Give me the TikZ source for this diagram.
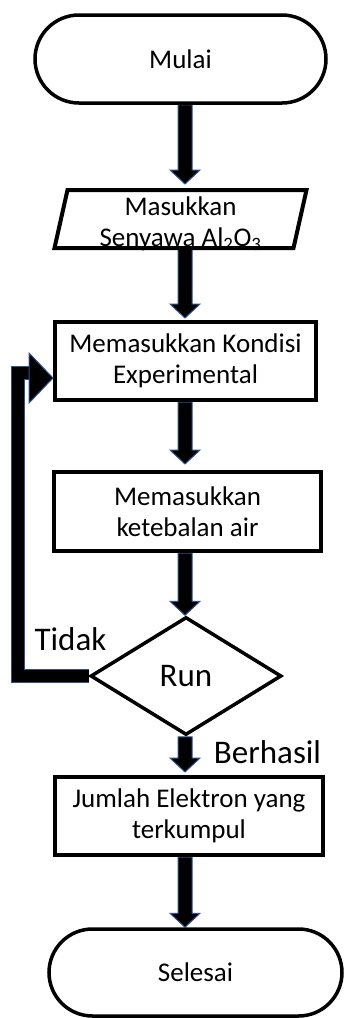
\documentclass[tikz,border=0pt]{standalone}
\usepackage{fontspec}
\setmainfont{Carlito}
\usetikzlibrary{shapes.misc,shapes.geometric,calc}
\definecolor{arrblue}{RGB}{47,82,143}
\pgfdeclarelayer{bg}
\pgfsetlayers{bg,main}
\newcommand\blockarr[2]{%
  \draw[arrfill] let \p1=#1, \p2=#2 in
    (\x1-7pt,\y1) -- (\x1+7pt,\y1) -- (\x1+7pt,\y2+14pt) -- (\x1+15pt,\y2+14pt)
    -- (\x1,\y2) -- (\x1-15pt,\y2+14pt) -- (\x1-7pt,\y2+14pt) -- cycle;}
\tikzset{
  boxtxt/.style={font=\fontsize{27}{31}\selectfont, align=center},
  procbox/.style={rectangle, draw, line width=4pt, fill=white, boxtxt, inner sep=0pt},
  term/.style={rounded rectangle, draw, line width=3.5pt, fill=white, boxtxt, inner sep=0pt},
  decision/.style={diamond, draw, line width=3.5pt, fill=white, inner sep=0pt,
    font=\fontsize{33}{38}\selectfont},
  lbl/.style={font=\fontsize{33}{38}\selectfont, inner sep=0pt, anchor=base},
  arrfill/.style={fill=black, draw=arrblue, line width=1pt, line join=miter},
  loopline/.style={draw=arrblue, line width=1pt, double=black, double distance=12pt, line join=miter},
}
\begin{document}
\begin{tikzpicture}[x=1pt,y=-1pt]
\useasboundingbox (0,0) rectangle (343,1018);
\coordinate (ax) at (185,0);
\coordinate (lx) at (17.5,0);
% nodes
\node[term, minimum width=291, minimum height=88] (start) at (180.5,59) {Mulai};
\node[rectangle, minimum width=252, minimum height=58, inner sep=0pt, outer sep=0pt] (inp) at (180.5,219) {};
\draw[line width=4pt, fill=white] ($(inp.north west)+(13,0)$) -- (inp.north east)
   -- ($(inp.south east)+(-13,0)$) -- (inp.south west) -- cycle;
\node[boxtxt, inner sep=0pt] (inptxt) at ($(inp.center)+(0,5)$) {Masukkan\\Senyawa Al\textsubscript{2}O\textsubscript{3}};
\node[procbox, minimum width=261, minimum height=78] (kon) at (185.5,361) {Memasukkan Kondisi\\Experimental};
\node[procbox, minimum width=267, minimum height=79] (keb) at (187.5,511.5) {Memasukkan\\ketebalan air};
\node[decision, minimum width=191, minimum height=118] (run) at (186,676) {Run};
\node[procbox, minimum width=268, minimum height=78] (jum) at (189,816) {Jumlah Elektron yang\\terkumpul};
\node[term, minimum width=293, minimum height=87] (end) at (195.5,972.5) {Selesai};
\node[lbl] (tidak) at (70.5,650) {Tidak};
\node[lbl] (berhasil) at (267.5,763) {Berhasil};
% connectors
\begin{pgfonlayer}{bg}
\blockarr{(start.south -| ax)}{($(inp.north -| ax)+(0,-6)$)}
\blockarr{(inp.south -| ax)}{($(kon.north -| ax)+(0,-2)$)}
\blockarr{(kon.south -| ax)}{($(keb.north -| ax)+(0,-6)$)}
\blockarr{(keb.south -| ax)}{(run.north -| ax)}
\blockarr{(run.south -| ax)}{($(jum.north -| ax)+(0,-3)$)}
\blockarr{(jum.south -| ax)}{(end.north -| ax)}
\coordinate (tip) at ($(kon.west)+(0,17)$);
\coordinate (hb) at ($(tip)+(-24,0)$);
\coordinate (sy) at ($(tip)+(0,-5)$);
\draw[loopline] (run.west) -- (run.west -| lx) -- (lx |- sy) -- ($(hb |- sy)+(1,0)$);
\end{pgfonlayer}
\draw[arrfill] ($(hb)+(0,-25)$) -- (tip) -- ($(hb)+(0,25)$) -- cycle;
\end{tikzpicture}
\end{document}
